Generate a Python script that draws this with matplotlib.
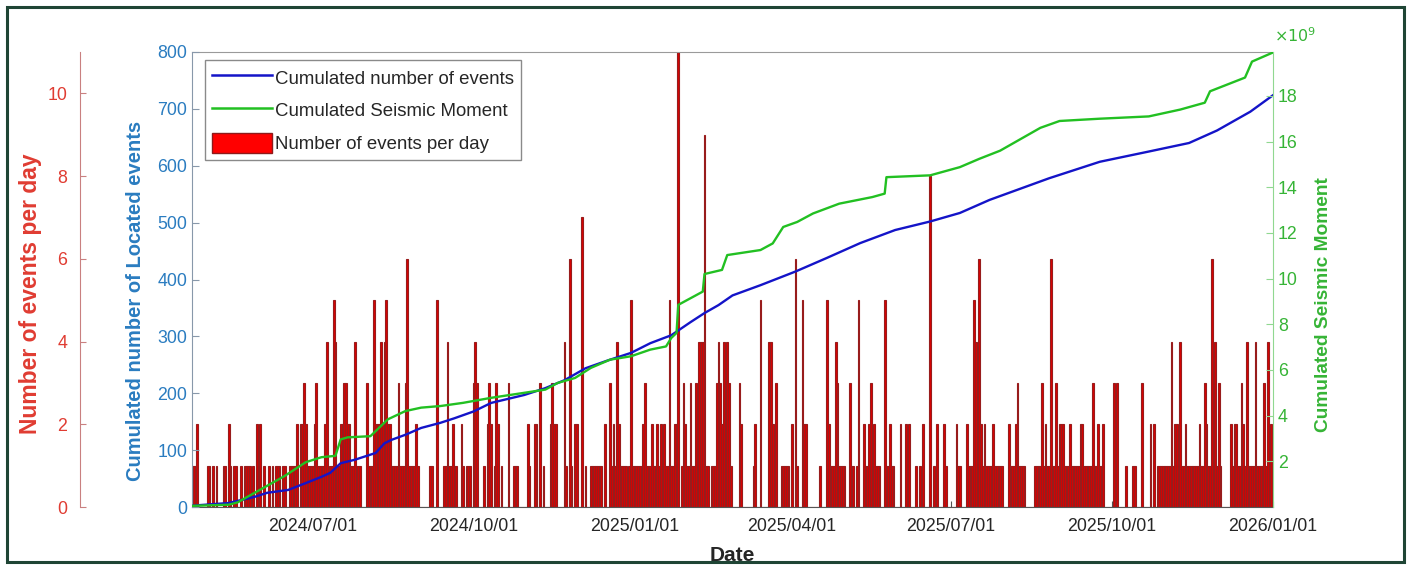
import numpy as np
import pandas as pd
import matplotlib
matplotlib.use("Agg")
import matplotlib.pyplot as plt
import matplotlib.dates as mdates
from matplotlib.patches import Rectangle, Patch
from matplotlib.lines import Line2D

plt.rcParams['font.family'] = ['Liberation Sans', 'DejaVu Sans']

# ---------------- data ----------------
start_date = "2024-04-23"
# number of events per day, one value per day from start_date (rows of 10 days)
events_per_day = [
    1, 1, 1, 2, 0, 0, 0, 0, 0, 1,
    1, 0, 1, 0, 1, 0, 0, 0, 1, 1,
    0, 2, 1, 0, 1, 1, 0, 0, 1, 0,
    1, 1, 1, 1, 0, 1, 0, 2, 1, 2,
    0, 1, 0, 0, 1, 0, 1, 0, 1, 1,
    1, 0, 1, 1, 0, 0, 1, 1, 1, 1,
    2, 0, 2, 2, 3, 2, 1, 1, 1, 1,
    2, 3, 1, 1, 1, 1, 2, 4, 0, 1,
    1, 5, 4, 1, 1, 2, 2, 3, 3, 2,
    2, 1, 1, 4, 1, 1, 1, 0, 0, 0,
    3, 1, 1, 1, 5, 2, 2, 2, 4, 2,
    4, 5, 2, 2, 1, 1, 1, 1, 3, 1,
    1, 1, 3, 6, 1, 1, 1, 1, 2, 1,
    0, 0, 0, 0, 0, 0, 1, 1, 0, 0,
    5, 0, 0, 0, 1, 1, 4, 1, 1, 2,
    1, 1, 0, 0, 2, 1, 0, 1, 1, 1,
    0, 3, 4, 3, 0, 0, 0, 1, 0, 2,
    3, 2, 0, 1, 3, 2, 0, 1, 0, 0,
    0, 3, 0, 0, 1, 1, 1, 0, 0, 0,
    0, 0, 2, 1, 0, 0, 2, 2, 0, 3,
    0, 1, 0, 0, 0, 2, 3, 2, 2, 0,
    0, 0, 0, 4, 1, 0, 6, 1, 0, 2,
    2, 0, 0, 7, 0, 1, 0, 0, 1, 1,
    1, 1, 1, 1, 1, 0, 2, 0, 0, 3,
    1, 2, 1, 4, 2, 1, 1, 1, 1, 0,
    1, 5, 1, 1, 1, 1, 1, 1, 2, 3,
    1, 1, 1, 2, 1, 1, 2, 1, 2, 1,
    2, 1, 1, 5, 1, 1, 2, 2, 11, 0,
    1, 3, 2, 1, 1, 3, 1, 1, 3, 2,
    4, 4, 4, 9, 1, 1, 0, 1, 1, 1,
    3, 4, 3, 2, 4, 3, 4, 3, 1, 0,
    0, 0, 0, 3, 2, 0, 0, 0, 0, 0,
    0, 1, 2, 0, 0, 5, 0, 0, 0, 0,
    4, 4, 2, 0, 3, 0, 0, 1, 1, 1,
    1, 1, 0, 2, 0, 6, 1, 0, 0, 5,
    2, 2, 0, 0, 0, 0, 0, 0, 0, 1,
    0, 0, 0, 5, 2, 1, 1, 1, 4, 3,
    1, 1, 1, 1, 0, 0, 3, 1, 1, 0,
    1, 5, 0, 0, 2, 1, 1, 2, 3, 1,
    2, 1, 1, 1, 0, 0, 5, 1, 1, 2,
    1, 1, 0, 0, 0, 2, 0, 0, 2, 0,
    2, 0, 0, 0, 1, 0, 1, 0, 2, 0,
    0, 0, 8, 0, 1, 0, 2, 0, 0, 0,
    2, 1, 0, 0, 0, 0, 0, 2, 1, 1,
    0, 0, 0, 2, 1, 1, 1, 5, 4, 1,
    6, 2, 1, 2, 1, 1, 1, 1, 2, 1,
    1, 1, 1, 1, 0, 0, 0, 2, 1, 1,
    1, 2, 3, 1, 1, 1, 1, 0, 0, 0,
    0, 0, 1, 1, 1, 1, 3, 1, 2, 1,
    1, 6, 1, 1, 3, 1, 2, 2, 2, 1,
    1, 1, 2, 1, 1, 1, 1, 1, 2, 2,
    1, 1, 1, 1, 1, 3, 1, 1, 2, 1,
    1, 2, 0, 0, 0, 0, 0, 3, 0, 3,
    0, 0, 0, 0, 1, 0, 0, 0, 1, 1,
    0, 0, 0, 3, 0, 0, 0, 0, 2, 0,
    2, 0, 1, 1, 1, 1, 1, 1, 1, 1,
    4, 1, 2, 2, 1, 4, 1, 1, 2, 1,
    1, 1, 1, 1, 1, 1, 2, 1, 1, 3,
    2, 1, 1, 6, 1, 4, 1, 3, 1, 0,
    0, 0, 0, 0, 2, 1, 2, 2, 1, 1,
    3, 2, 1, 4, 1, 1, 1, 1, 4, 1,
    1, 1, 1, 3, 1, 4, 1, 2,
]

# cumulated number of located events
cum_events_dates = [
    "2024-04-23", "2024-04-26", "2024-05-14", "2024-05-29", "2024-06-05",
    "2024-06-17", "2024-06-27", "2024-07-06", "2024-07-11", "2024-07-17",
    "2024-07-25", "2024-08-06", "2024-08-11", "2024-08-15", "2024-08-23",
    "2024-09-01", "2024-09-12", "2024-09-20", "2024-10-01", "2024-10-11",
    "2024-10-30", "2024-11-11", "2024-11-22", "2024-12-04", "2024-12-17",
    "2024-12-30", "2025-01-10", "2025-01-22", "2025-02-02", "2025-02-10",
    "2025-02-18", "2025-02-26", "2025-03-14", "2025-04-03", "2025-04-21",
    "2025-05-10", "2025-05-30", "2025-06-19", "2025-07-06", "2025-07-23",
    "2025-08-26", "2025-09-24", "2025-10-22", "2025-11-14", "2025-11-30",
    "2025-12-19", "2026-01-01",
]
cum_events = [
    2, 3, 7, 18, 25,
    30, 42, 53, 60, 77,
    83, 95, 112, 118, 127,
    139, 148, 156, 168, 183,
    197, 209, 223, 244, 258,
    271, 288, 302, 325, 341,
    355, 372, 390, 414, 438,
    464, 487, 502, 517, 540,
    578, 607, 625, 640, 662,
    695, 724,
]

# cumulated seismic moment (x 10^9)
cum_moment_dates = [
    "2024-04-23", "2024-05-14", "2024-05-19", "2024-06-05", "2024-06-15",
    "2024-06-27", "2024-07-06", "2024-07-14", "2024-07-17", "2024-07-21",
    "2024-08-03", "2024-08-13", "2024-08-23", "2024-09-01", "2024-09-12",
    "2024-09-25", "2024-10-11", "2024-10-30", "2024-11-11", "2024-11-18",
    "2024-11-28", "2024-12-07", "2024-12-18", "2024-12-30", "2025-01-10",
    "2025-01-19", "2025-01-22", "2025-01-25", "2025-01-26", "2025-02-09",
    "2025-02-10", "2025-02-20", "2025-02-23", "2025-03-14", "2025-03-21",
    "2025-03-27", "2025-04-04", "2025-04-13", "2025-04-28", "2025-05-17",
    "2025-05-24", "2025-05-25", "2025-06-19", "2025-07-06", "2025-07-17",
    "2025-07-29", "2025-08-21", "2025-09-01", "2025-09-24", "2025-10-22",
    "2025-11-09", "2025-11-23", "2025-11-26", "2025-12-16", "2025-12-20",
    "2026-01-01",
]
cum_moment_1e9 = [
    0.05, 0.1, 0.2, 0.93, 1.36,
    1.96, 2.18, 2.24, 2.96, 3.05,
    3.1, 3.84, 4.2, 4.35, 4.42,
    4.56, 4.78, 5.0, 5.14, 5.43,
    5.65, 6.09, 6.45, 6.6, 6.89,
    7.03, 7.4, 7.62, 8.85, 9.43,
    10.2, 10.38, 11.03, 11.25, 11.54,
    12.26, 12.48, 12.85, 13.28, 13.57,
    13.72, 14.44, 14.52, 14.88, 15.24,
    15.6, 16.6, 16.9, 17.0, 17.1,
    17.4, 17.7, 18.2, 18.8, 19.5,
    19.9,
]

xtick_dates = ["2024-07-01", "2024-10-01", "2025-01-01", "2025-04-01",
               "2025-07-01", "2025-10-01", "2026-01-01"]
x_end = "2026-01-01"

# ---------------- figure ----------------
W, H = 1411, 567
fig = plt.figure(figsize=(W / 100, H / 100), dpi=100)
fig.patch.set_facecolor('white')

# outer frame
fig.patches.append(Rectangle((7 / W, 5 / H), 1 - 14 / W, 1 - 12 / H, transform=fig.transFigure,
                             fill=False, edgecolor='#1f4535', linewidth=2.2))

L, R, T, B = 192, 1273, 52, 507
ax = fig.add_axes([L / W, 1 - B / H, (R - L) / W, (B - T) / H])

RED = '#e03c32'
BLUE = '#2a7cc0'
GREEN = '#36b436'
TXT = '#262626'
FS = 12.8

day_dates = pd.date_range(start_date, periods=len(events_per_day), freq='D')
ax.bar(day_dates, events_per_day, width=1.0, color='#dc0000', edgecolor='#981c1c',
       linewidth=0.8, align='center', zorder=2)
ax.set_ylim(0, 11)
ax.set_xlim(pd.Timestamp(start_date), pd.Timestamp(x_end))

# red axis offset to the left
ax.spines['left'].set_position(('outward', (L - 80) * 0.72))
ax.spines['left'].set_color('#c98080')
ax.spines['left'].set_linewidth(0.8)
ax.spines['right'].set_visible(False)
ax.spines['top'].set_color('#9a9a9a')
ax.spines['bottom'].set_color('#555555')
ax.set_yticks([0, 2, 4, 6, 8, 10])
ax.tick_params(axis='y', colors='#c98080', labelcolor=RED, labelsize=FS, direction='in',
               length=4, width=0.8, pad=9)
ax.set_ylabel('Number of events per day', color=RED, fontsize=16.5, fontweight='bold')
ax.yaxis.set_label_coords((42 - L) / (R - L), 0.468)

ax.set_xticks(pd.to_datetime(xtick_dates))
ax.xaxis.set_major_formatter(mdates.DateFormatter('%Y/%m/%d'))
ax.tick_params(axis='x', colors='#555555', labelcolor=TXT, labelsize=FS, direction='in',
               length=4, pad=8)
ax.set_xlabel('Date', fontsize=15, fontweight='bold', color=TXT, labelpad=8)

# blue axis (left, cumulated number)
ax2 = ax.twinx()
ax2.yaxis.tick_left()
ax2.yaxis.set_label_position('left')
for s in ['top', 'right', 'bottom']:
    ax2.spines[s].set_visible(False)
ax2.spines['left'].set_visible(True)
ax2.spines['left'].set_color('#8898aa')
ax2.plot(pd.to_datetime(cum_events_dates), cum_events, color='#1414c8', linewidth=1.7, zorder=3)
ax2.set_ylim(0, 800)
ax2.set_yticks(range(0, 801, 100))
ax2.tick_params(axis='y', colors='#8898aa', labelcolor=BLUE, labelsize=FS, direction='in', length=5)
ax2.set_ylabel('Cumulated number of Located events', color=BLUE, fontsize=14.5, fontweight='bold')
ax2.yaxis.set_label_coords((145 - L) / (R - L), 0.453)

# green axis (right, seismic moment)
ax3 = ax.twinx()
for s in ['top', 'left', 'bottom']:
    ax3.spines[s].set_visible(False)
ax3.spines['right'].set_color('#90d890')
ax3.plot(pd.to_datetime(cum_moment_dates), cum_moment_1e9, color='#22c022', linewidth=1.7, zorder=3)
ax3.set_ylim(0, 19.92)
ax3.set_yticks(range(2, 19, 2))
ax3.tick_params(axis='y', colors='#90d890', labelcolor=GREEN, labelsize=FS, direction='in', length=5)
ax3.set_ylabel('Cumulated Seismic Moment', color=GREEN, fontsize=13.8, fontweight='bold')
ax3.yaxis.set_label_coords((1315 - L) / (R - L), 0.444)
fig.text(1274 / W, 1 - 36 / H, r'$\times10^{9}$', color=GREEN, fontsize=11.5, ha='left', va='center')

handles = [Line2D([], [], color='#1414c8', linewidth=1.8),
           Line2D([], [], color='#22c022', linewidth=1.8),
           Patch(facecolor='#ff0000', edgecolor='#8e1a1a', linewidth=1.0)]
labels = ['Cumulated number of events', 'Cumulated Seismic Moment', 'Number of events per day']
leg = ax3.legend(handles, labels, loc='upper left', bbox_to_anchor=((205 - L) / (R - L), (B - 60) / (B - T)),
                 fontsize=13.4, frameon=True, fancybox=False, edgecolor='#8a8a8a', framealpha=1,
                 handlelength=3.2, handleheight=1.25, handletextpad=0.15, labelspacing=0.68,
                 borderpad=0.4, borderaxespad=0.0)
leg.get_frame().set_linewidth(1.0)
for t in leg.get_texts():
    t.set_color(TXT)

fig.savefig('out.png', dpi=100, facecolor='white')
